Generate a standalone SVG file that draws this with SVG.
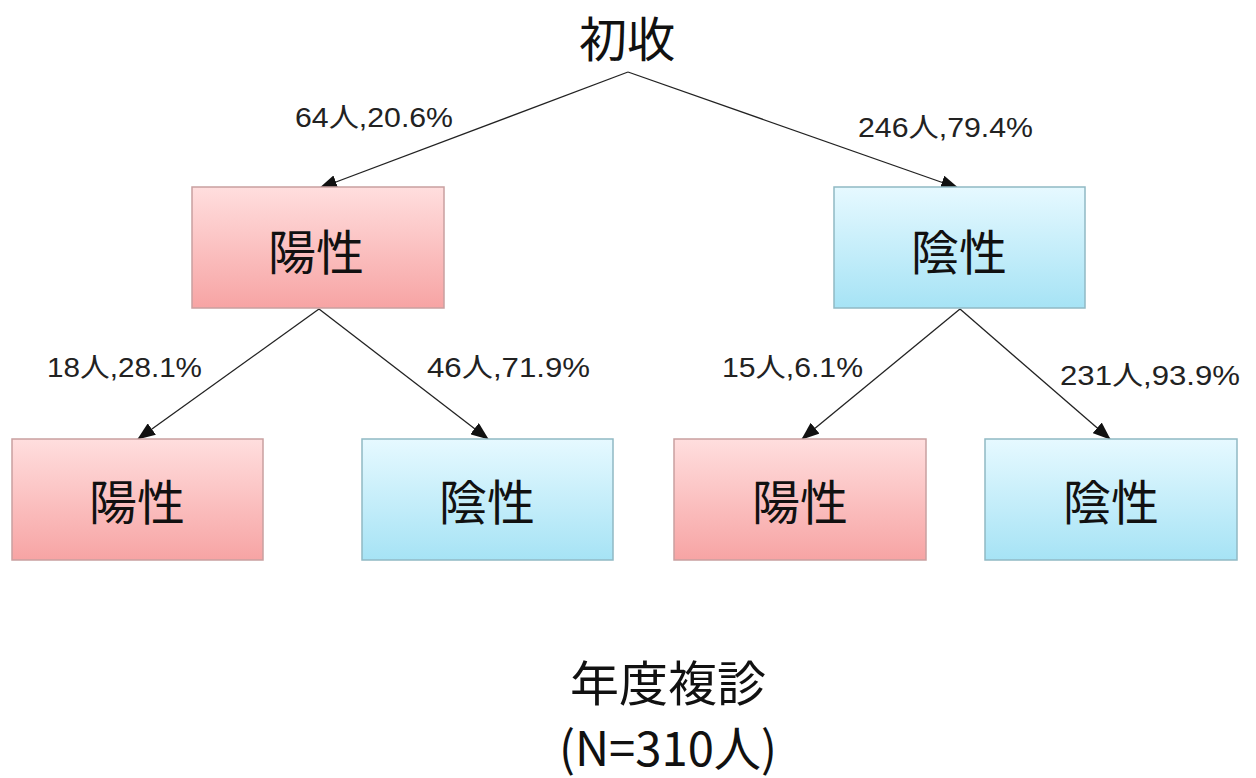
<svg xmlns="http://www.w3.org/2000/svg" width="1256" height="778" viewBox="0 0 1256 778">
<style>
.t{font-family:"Liberation Sans","Noto Sans CJK JP",sans-serif;fill:#111;}
.big{font-size:48px;text-anchor:middle;font-family:"Noto Sans CJK JP",sans-serif;}
.lbl{font-size:27px;fill:#222;}
.pos{fill:url(#gp);stroke:#c9a0a0;stroke-width:1.5;}
.neg{fill:url(#gb);stroke:#90b9c4;stroke-width:1.5;}
.c{stroke:#222;stroke-width:1.3;fill:none;marker-end:url(#ah);}
</style>
<defs>
<linearGradient id="gp" x1="0" y1="0" x2="0" y2="1"><stop offset="0" stop-color="#ffdede"/><stop offset="1" stop-color="#f7a4a4"/></linearGradient>
<linearGradient id="gb" x1="0" y1="0" x2="0" y2="1"><stop offset="0" stop-color="#e6f9ff"/><stop offset="1" stop-color="#a6e3f5"/></linearGradient>
<marker id="ah" viewBox="0 0 18 14" refX="17" refY="7" markerWidth="18" markerHeight="14" markerUnits="userSpaceOnUse" orient="auto"><path d="M0,0 L18,7 L0,14 z" fill="#111"/></marker>
</defs>
<rect width="1256" height="778" fill="#fff"/>
<g id="root"><text class="t big" x="627" y="57">初收</text></g>
<g id="connectors">
<line class="c" x1="628" y1="72" x2="320" y2="188"/>
<line class="c" x1="628" y1="72" x2="958" y2="188"/>
<line class="c" x1="319" y1="309" x2="138" y2="439"/>
<line class="c" x1="319" y1="309" x2="488" y2="439"/>
<line class="c" x1="960" y1="309" x2="802" y2="439"/>
<line class="c" x1="960" y1="309" x2="1110" y2="439"/>
</g>
<g id="labels">
<text class="t lbl" x="295" y="127" textLength="158" lengthAdjust="spacingAndGlyphs">64人,20.6%</text>
<text class="t lbl" x="858" y="137" textLength="175" lengthAdjust="spacingAndGlyphs">246人,79.4%</text>
<text class="t lbl" x="47" y="377" textLength="155" lengthAdjust="spacingAndGlyphs">18人,28.1%</text>
<text class="t lbl" x="427" y="377" textLength="163" lengthAdjust="spacingAndGlyphs">46人,71.9%</text>
<text class="t lbl" x="722" y="377" textLength="141" lengthAdjust="spacingAndGlyphs">15人,6.1%</text>
<text class="t lbl" x="1060" y="385" textLength="180" lengthAdjust="spacingAndGlyphs">231人,93.9%</text>
</g>
<g id="n1"><rect class="pos" x="192" y="187" width="252" height="121"/><text class="t big" x="316" y="270">陽性</text></g>
<g id="n2"><rect class="neg" x="834" y="187" width="251" height="121"/><text class="t big" x="959" y="270">陰性</text></g>
<g id="n3"><rect class="pos" x="12" y="439" width="251" height="121"/><text class="t big" x="137" y="520">陽性</text></g>
<g id="n4"><rect class="neg" x="362" y="439" width="251" height="121"/><text class="t big" x="487" y="520">陰性</text></g>
<g id="n5"><rect class="pos" x="674" y="439" width="252" height="121"/><text class="t big" x="800" y="520">陽性</text></g>
<g id="n6"><rect class="neg" x="985" y="439" width="252" height="121"/><text class="t big" x="1111" y="520">陰性</text></g>
<g id="footer">
<text class="t big" x="668" y="701" font-size="43" textLength="196" lengthAdjust="spacingAndGlyphs">年度複診</text>
<text class="t big" x="668" y="766" font-size="38" textLength="218" lengthAdjust="spacingAndGlyphs">(N=310人)</text>
</g>
</svg>
